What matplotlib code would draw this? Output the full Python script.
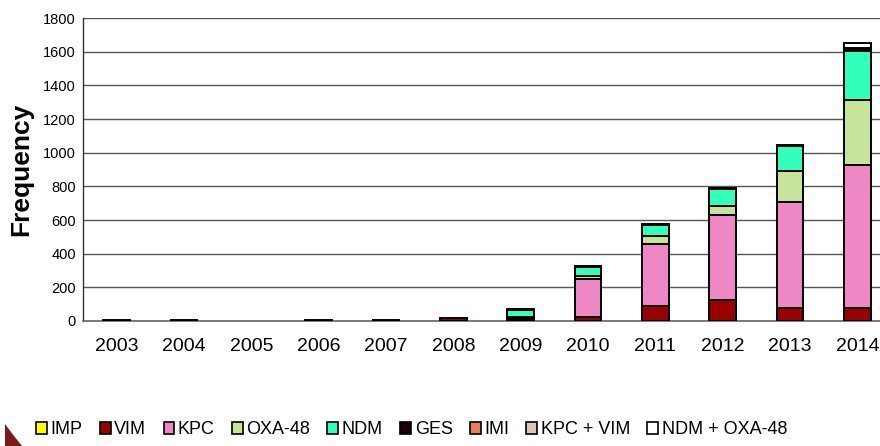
import matplotlib
matplotlib.use("Agg")
import matplotlib.pyplot as plt
from matplotlib.patches import Polygon
import numpy as np

plt.rcParams['font.family'] = ['Liberation Sans', 'DejaVu Sans']

years = ["2003", "2004", "2005", "2006", "2007", "2008", "2009", "2010", "2011", "2012", "2013", "2014"]
series_names = ["IMP", "VIM", "KPC", "OXA-48", "NDM", "GES", "IMI", "KPC + VIM", "NDM + OXA-48"]
imp = [0, 0, 0, 0, 0, 0, 0, 0, 0, 0, 0, 0]
vim = [5, 5, 0, 5, 5, 18, 5, 25, 88, 122, 80, 80]
kpc = [0, 0, 0, 0, 0, 0, 10, 225, 367, 507, 627, 848]
oxa48 = [0, 0, 0, 0, 0, 0, 8, 20, 50, 55, 182, 382]
ndm = [0, 0, 0, 0, 0, 0, 45, 50, 65, 100, 150, 295]
ges = [0, 0, 0, 0, 0, 0, 5, 8, 4, 8, 8, 15]
imi = [0, 0, 0, 0, 0, 0, 0, 0, 0, 0, 0, 0]
kpc_vim = [0, 0, 0, 0, 0, 0, 0, 0, 0, 0, 0, 0]
ndm_oxa48 = [0, 0, 0, 0, 0, 0, 0, 0, 0, 0, 0, 30]
colors = ["#ffff00", "#990000", "#ee88c4", "#c6e49a", "#33ffbb", "#1a0008", "#e0805c", "#dcc4bc", "#ffffff"]
yticks = [0, 200, 400, 600, 800, 1000, 1200, 1400, 1600, 1800]

data = [imp, vim, kpc, oxa48, ndm, ges, imi, kpc_vim, ndm_oxa48]

fig = plt.figure(figsize=(8.8, 4.46), dpi=100)
ax = fig.add_axes([83/880, 125/446, 808/880, 303/446])

x = np.arange(len(years))
bottom = np.zeros(len(years))
handles = []
for name, vals, c in zip(series_names, data, colors):
    vals = np.array(vals, dtype=float)
    lw = np.where(vals > 0, 1.4, 0.0)
    b = ax.bar(x, vals, width=0.4, bottom=bottom, color=c, edgecolor="black",
               linewidth=lw, label=name, zorder=3)
    bottom += vals
    handles.append(b)

ax.set_ylim(0, 1800)
ax.set_xlim(-0.5, len(years) - 0.5)
ax.set_yticks(yticks)
ax.set_yticklabels([str(v) for v in yticks], fontsize=10.5)
ax.set_xticks(x)
ax.set_xticklabels(years, fontsize=14)
ax.tick_params(axis='both', length=0)
ax.tick_params(axis='x', pad=12)
ax.tick_params(axis='y', pad=5)
ax.yaxis.grid(True, color="#555555", linewidth=1.0, zorder=0)
ax.set_axisbelow(True)
for s in ["top", "right"]:
    ax.spines[s].set_visible(False)
ax.spines["left"].set_color("#333333")
ax.spines["bottom"].set_color("#666666")
ax.spines["left"].set_linewidth(1.0)
ax.spines["bottom"].set_linewidth(1.2)
ax.set_ylabel("Frequency", fontsize=19, fontweight="bold", labelpad=7)

from matplotlib.patches import Patch
leg_handles = [Patch(facecolor=c, edgecolor="black", linewidth=1.2) for c in colors]
leg = fig.legend(handles=leg_handles, labels=series_names, loc="center",
                 bbox_to_anchor=(0.468, 0.036), ncol=9, frameon=False,
                 fontsize=13, handlelength=0.6, handleheight=0.6,
                 handletextpad=0.2, columnspacing=0.95, borderaxespad=0)

fig.patches.append(Polygon([[5/880, 22/446], [14/880, 10/446], [22/880, 0], [5/880, 0]],
                           closed=True, transform=fig.transFigure,
                           facecolor="#7a1a1a", edgecolor="none"))

fig.savefig("out.png", dpi=100)
